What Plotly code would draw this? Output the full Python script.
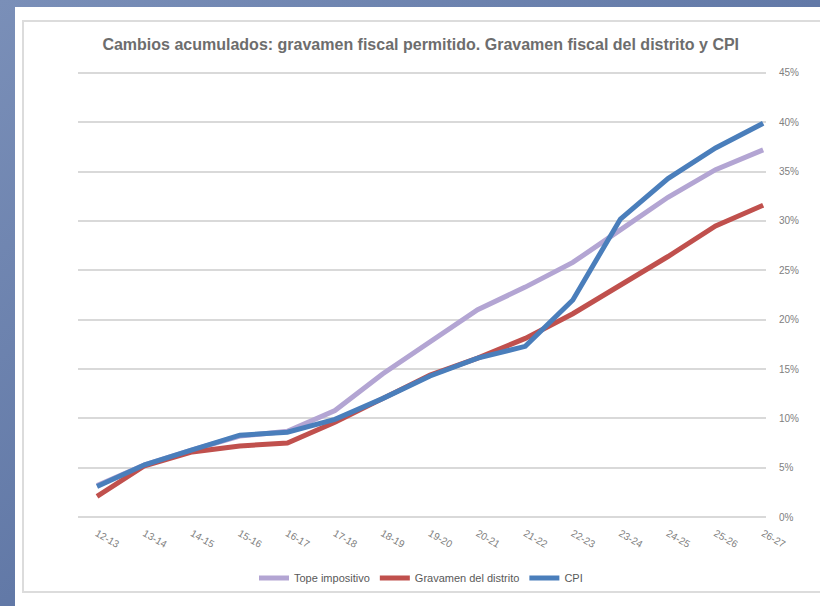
import base64
import plotly.graph_objects as go

categories = ["12-13", "13-14", "14-15", "15-16", "16-17", "17-18", "18-19", "19-20",
              "20-21", "21-22", "22-23", "23-24", "24-25", "25-26", "26-27"]
tope = [0.032, 0.053, 0.068, 0.082, 0.087, 0.108, 0.145, 0.178, 0.210, 0.233,
        0.258, 0.291, 0.324, 0.352, 0.372]
gravamen = [0.021, 0.052, 0.066, 0.072, 0.075, 0.096, 0.120, 0.144, 0.161, 0.181,
            0.206, 0.235, 0.264, 0.295, 0.316]
cpi = [0.031, 0.053, 0.068, 0.083, 0.086, 0.099, 0.120, 0.143, 0.161, 0.173,
       0.220, 0.302, 0.343, 0.374, 0.399]
y_ticks = [0, 0.05, 0.10, 0.15, 0.20, 0.25, 0.30, 0.35, 0.40, 0.45]

x = list(range(len(categories)))

fig = go.Figure()
fig.add_trace(go.Scatter(x=x, y=tope, mode="lines", name="Tope impositivo",
                         line=dict(color="#b3a5d3", width=5)))
fig.add_trace(go.Scatter(x=x, y=gravamen, mode="lines", name="Gravamen del distrito",
                         line=dict(color="#c0504d", width=5)))
fig.add_trace(go.Scatter(x=x, y=cpi, mode="lines", name="CPI",
                         line=dict(color="#4a7ebb", width=5)))

svg = ('<svg xmlns="http://www.w3.org/2000/svg" width="100" height="100" preserveAspectRatio="none">'
       '<defs><linearGradient id="g" x1="0" y1="0" x2="1" y2="1">'
       '<stop offset="0" stop-color="#7a8fb8"/><stop offset="1" stop-color="#4a6396"/>'
       '</linearGradient></defs><rect width="100" height="100" fill="url(#g)"/></svg>')
src = "data:image/svg+xml;base64," + base64.b64encode(svg.encode()).decode()

# plot area in pixels (0% at y=517, 45% at y=73, with 4 px padding so edge gridlines show)
L, R, T, B = 78, 766, 69, 521
W, H = R - L, B - T
def px(v):
    return (v - L) / W
def py(v):
    return (B - v) / H

fig.add_layout_image(dict(source=src, xref="paper", yref="paper",
                          x=px(0), y=py(0), sizex=px(820) - px(0), sizey=py(0) - py(606),
                          xanchor="left", yanchor="top", sizing="stretch", layer="below"))
fig.add_shape(type="rect", xref="paper", yref="paper", x0=px(15), x1=px(830),
              y0=py(620), y1=py(7), fillcolor="white", line=dict(width=0), layer="below")
fig.add_shape(type="rect", xref="paper", yref="paper", x0=px(23), x1=px(830),
              y0=py(592), y1=py(21), fillcolor="white",
              line=dict(color="#dcdcdc", width=2), layer="below")

fig.update_layout(
    width=820, height=606,
    margin=dict(l=L, r=820 - R, t=T, b=606 - B, autoexpand=False),
    paper_bgcolor="#6079a8",
    plot_bgcolor="rgba(0,0,0,0)",
    font=dict(family="Liberation Sans, Arial, sans-serif", color="#7f7f7f"),
    title=dict(text="<b>Cambios acumulados: gravamen fiscal permitido. Gravamen fiscal del distrito y CPI</b>",
               x=px(431), xanchor="center", y=1 - 44 / 606, yanchor="middle",
               font=dict(size=16, color="#6d6d6d")),
    showlegend=True,
    legend=dict(orientation="h", x=px(421), xanchor="center", y=py(578), yanchor="middle",
                font=dict(size=11, color="#595959"), bgcolor="rgba(0,0,0,0)",
                itemwidth=30, tracegroupgap=0),
    xaxis=dict(range=[-0.4, 14.06], tickmode="array", tickvals=x, ticktext=categories,
               tickangle=30, showgrid=False, zeroline=False, showline=False,
               ticks="", tickfont=dict(size=10, color="#808080"), ticklabelstandoff=4,
               automargin=False, fixedrange=True),
    yaxis=dict(range=[-0.004, 0.454], tickmode="array", tickvals=y_ticks, tickformat=".0%",
               side="right", showgrid=True, gridcolor="#d9d9d9", gridwidth=1.5,
               zeroline=False, showline=False, ticks="", automargin=False,
               tickfont=dict(size=10, color="#808080"), ticklabelstandoff=12),
)

fig.write_html("out.html", config={"displayModeBar": False},
               post_script="document.body.style.margin='0';document.body.style.overflow='hidden';")
